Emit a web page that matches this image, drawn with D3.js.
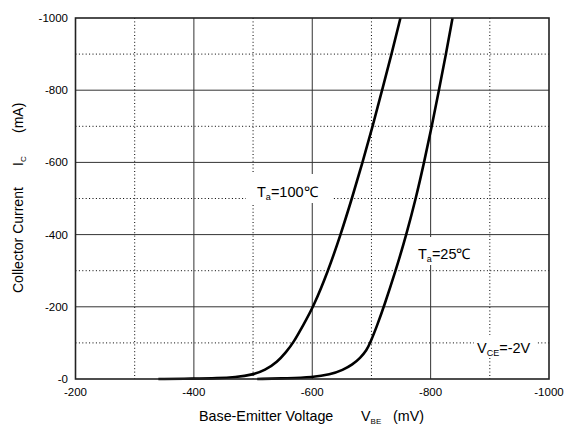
<!DOCTYPE html>
<html><head><meta charset="utf-8">
<script src="https://cdn.jsdelivr.net/npm/d3@7/dist/d3.min.js"></script>
<style>body{margin:0;background:#fff}svg{display:block}text{font-family:"Liberation Sans",Arial,sans-serif;fill:#000}</style>
</head><body><svg id="c" width="565" height="428"></svg>
<script>
const xTicks = [-200, -400, -600, -800, -1000];
const xMinor = [-300, -500, -700, -900];
const yTicks = [0, -200, -400, -600, -800, -1000];
const yTickLabels = ["-0", "-200", "-400", "-600", "-800", "-1000"];
const yMinor = [-100, -300, -500, -700, -900];
// Ta = 100°C : [VBE (mV), IC (mA)]
const vbe100 = [-340, -400, -440, -470, -500, -520, -541, -556, -568, -585, -602, -627, -648, -667, -685, -702, -718, -734, -749];
const ic100  = [0, -1, -2, -5, -12, -24, -47, -75, -100, -150, -200, -300, -400, -500, -600, -700, -800, -900, -1000];
// Ta = 25°C
const vbe25 = [-507, -560, -600, -630, -652, -668, -681, -692, -698, -710, -721, -741, -759, -775, -789, -802, -814, -826, -837];
const ic25  = [0, -2, -5, -12, -25, -40, -58, -80, -100, -150, -200, -300, -400, -500, -600, -700, -800, -900, -1000];

const L = 75.5, R = 549, T = 18, B = 379;
const svg = d3.select("#c");
const x = d3.scaleLinear().domain([-200, -1000]).range([L, R]);
const y = d3.scaleLinear().domain([0, -1000]).range([B, T]);

const g = svg.append("g");
g.selectAll(".vm").data(xMinor).join("line")
  .attr("x1", d => x(d)).attr("x2", d => x(d)).attr("y1", T).attr("y2", B)
  .attr("stroke", "#000").attr("stroke-width", 1).attr("stroke-dasharray", "1,2.4");
g.selectAll(".hm").data(yMinor).join("line")
  .attr("y1", d => y(d)).attr("y2", d => y(d)).attr("x1", L).attr("x2", R)
  .attr("stroke", "#000").attr("stroke-width", 1).attr("stroke-dasharray", "1,2.4");
g.selectAll(".vM").data(xTicks.slice(1, -1)).join("line")
  .attr("x1", d => x(d)).attr("x2", d => x(d)).attr("y1", T).attr("y2", B)
  .attr("stroke", "#333").attr("stroke-width", 1);
g.selectAll(".hM").data(yTicks.slice(1, -1)).join("line")
  .attr("y1", d => y(d)).attr("y2", d => y(d)).attr("x1", L).attr("x2", R)
  .attr("stroke", "#333").attr("stroke-width", 1);

function label(cx, cy, w, h, build) {
  svg.append("rect").attr("x", cx).attr("y", cy).attr("width", w).attr("height", h).attr("fill", "#fff");
  build();
}

const lineX = d3.line().x(d => x(d[0])).y(d => y(d[1])).curve(d3.curveBasis);
const d100 = vbe100.map((v, i) => [v, ic100[i]]);
const d25 = vbe25.map((v, i) => [v, ic25[i]]);
[d100, d25].forEach(d => {
  svg.append("path").attr("d", lineX(d)).attr("fill", "none").attr("stroke", "#000").attr("stroke-width", 2.6);
});

svg.append("rect").attr("x", L).attr("y", T).attr("width", R - L).attr("height", B - T)
  .attr("fill", "none").attr("stroke", "#222").attr("stroke-width", 1.6);

label(246, 174, 86, 29, () => {
  const t = svg.append("text").attr("x", 257).attr("y", 197).attr("font-size", 14.5);
  t.append("tspan").text("T");
  t.append("tspan").attr("font-size", 9).attr("dy", 3).text("a");
  t.append("tspan").attr("dy", -3).text("=100℃");
});
label(413, 237, 68, 28, () => {
  const t = svg.append("text").attr("x", 418).attr("y", 259).attr("font-size", 14.5);
  t.append("tspan").text("T");
  t.append("tspan").attr("font-size", 9).attr("dy", 3).text("a");
  t.append("tspan").attr("dy", -3).text("=25℃");
});
label(474, 335, 62, 22, () => {
  const t = svg.append("text").attr("x", 477).attr("y", 353).attr("font-size", 14.5);
  t.append("tspan").text("V");
  t.append("tspan").attr("font-size", 9).attr("dy", 3).text("CE");
  t.append("tspan").attr("dy", -3).text("=-2V");
});

svg.selectAll(".xt").data(xTicks).join("text")
  .attr("x", d => x(d)).attr("y", 396).attr("text-anchor", "middle").attr("font-size", 11.5).text(d => String(d));
svg.selectAll(".yt").data(yTicks).join("text")
  .attr("x", 68).attr("y", d => y(d)).attr("dy", "0.35em").attr("text-anchor", "end").attr("font-size", 11.5)
  .text((d, i) => yTickLabels[i]);

const xt = svg.append("text").attr("x", 199).attr("y", 421).attr("font-size", 14.3);
xt.append("tspan").text("Base-Emitter Voltage");
xt.append("tspan").attr("x", 361).text("V");
xt.append("tspan").attr("font-size", 8).attr("dy", 3).text("BE");
xt.append("tspan").attr("x", 393).attr("dy", -3).text("(mV)");

const yt = svg.append("text").attr("transform", "translate(23,293) rotate(-90)").attr("font-size", 14);
yt.append("tspan").attr("x", 0).text("Collector Current");
yt.append("tspan").attr("x", 127).text("I");
yt.append("tspan").attr("font-size", 8).attr("dy", 3).text("C");
yt.append("tspan").attr("x", 160).attr("dy", -3).text("(mA)");
</script></body></html>
